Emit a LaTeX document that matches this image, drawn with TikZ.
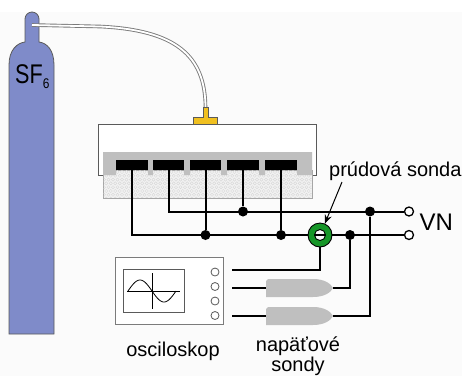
\documentclass[tikz,border=0pt]{standalone}
\usepackage{fontspec}
\usepackage{graphicx}
\setmainfont{Liberation Sans}
\usetikzlibrary{arrows.meta}

\definecolor{bg}{RGB}{251,251,251}
\definecolor{gas}{RGB}{127,139,201}
\definecolor{brass}{RGB}{240,192,32}
\definecolor{ceramic}{RGB}{191,191,191}
\definecolor{ringgreen}{RGB}{22,150,40}
\definecolor{edge}{RGB}{90,90,90}

\begin{document}
\begin{tikzpicture}[x=1pt,y=-1pt,
  wire/.style={line width=2pt,black},
  junction/.style={circle,fill=black,inner sep=0pt,minimum size=10pt},
  terminal/.style={circle,draw=black,line width=1.3pt,fill=white,inner sep=0pt,minimum size=9pt},
  electrode/.style={rectangle,fill=black,inner sep=0pt,minimum height=10pt},
  channel/.style={circle,draw=edge,line width=0.8pt,fill=white,inner sep=0pt,minimum size=8pt},
  txt/.style={font=\fontsize{20}{22}\selectfont,inner sep=0pt},
  probe/.style={fill=ceramic}]

\useasboundingbox (0,0) rectangle (462,376);
\fill[white] (0,0) rectangle (462,376);
\fill[bg] (0,12) rectangle (462,376);

% gas cylinder
\filldraw[fill=gas,draw=edge,line width=0.8pt]
  (9,334) -- (9,65) .. controls (9,50) and (17,43) .. (25,42) -- (25,19)
  .. controls (25,15.13) and (28.13,12) .. (32,12)
  .. controls (35.87,12) and (39,15.13) .. (39,19) -- (39,42)
  .. controls (47,43) and (54,50) .. (54,65) -- (54,334) -- cycle;
\node[anchor=base west,inner sep=0pt,font=\fontsize{27}{27}\selectfont] (sf) at (15,83.5)
  {\scalebox{0.8}[1]{SF}\raisebox{-4.5pt}{\fontsize{14}{14}\selectfont\scalebox{0.85}[1]{6}}};

% gas feed tube
\coordinate (valve) at (32,25);
\coordinate (inlet) at (205.5,108);
\draw[line width=3.6pt,edge!80] (valve) -- (100,26.5) .. controls (175,30) and (205.5,55) .. (inlet);
\draw[line width=1.8pt,white] (valve) -- (100,26.5) .. controls (175,30) and (205.5,55) .. (inlet);

% chamber
\filldraw[fill=white,draw=edge,line width=1pt]
  (103,175) -- (98,175) -- (98,124) -- (316,124) -- (316,175) -- (312,175);
\filldraw[fill=gray!10,draw=gray!70,line width=0.8pt] (103,170) rectangle (312,198);
\begin{scope}
  \clip (103.5,170) rectangle (311.5,197.5);
  \foreach \i in {0,...,47}
    \foreach \j in {0,...,7}
      \draw[gray!30,line width=0.45pt] ({104+\i*4.5+mod(\j,2)*2.25},{172+\j*3.8}) circle (1.6);
\end{scope}
\fill[ceramic] (103,152) rectangle (312,160)
  (103,160) rectangle (116,175)
  (148,160) rectangle (153,175)
  (184,160) rectangle (190,175)
  (221,160) rectangle (227,175)
  (259,160) rectangle (265,175)
  (297,160) rectangle (312,175);
\node[electrode,minimum width=32pt] (e1) at (132,165) {};
\node[electrode,minimum width=31pt] (e2) at (168.5,165) {};
\node[electrode,minimum width=31pt] (e3) at (205.5,165) {};
\node[electrode,minimum width=32pt] (e4) at (243,165) {};
\node[electrode,minimum width=32pt] (e5) at (281,165) {};

% gas inlet fitting
\filldraw[fill=brass,draw=edge,line width=0.6pt]
  (203,107) -- (208,107) -- (208,117) -- (217,117) -- (217,124)
  -- (193,124) -- (193,117) -- (203,117) -- cycle;

% high-voltage terminals
\node[terminal] (tu) at (409,211.5) {};
\node[terminal] (tl) at (409,235) {};
\node[anchor=base west,inner sep=0pt,font=\fontsize{24}{24}\selectfont] (vn) at (419.5,230) {VN};

% buses
\draw[wire] (e1.south) |- (tl.west);
\draw[wire] (e2.south) |- (tu.west);
\node[junction] (j3) at (e3.south |- tl) {};
\node[junction] (j4) at (e4.south |- tu) {};
\node[junction] (j5) at (e5.south |- tl) {};
\draw[wire] (e3.south) -- (j3);
\draw[wire] (e4.south) -- (j4);
\draw[wire] (e5.south) -- (j5);
\node[junction] (jl) at (350,235) {};
\node[junction] (ju) at (370,211.5) {};

% current probe
\node[circle,minimum size=24pt,inner sep=0pt] (ring) at (320,235) {};
\filldraw[fill=ringgreen,draw=black,line width=0.9pt,even odd rule]
  (ring.center) circle (12) (ring.center) circle (5.5);

% oscilloscope
\node[draw=edge!80,fill=white,line width=1pt,minimum width=108pt,minimum height=67pt,inner sep=0pt] (scope) at (169,290.5) {};
\node[draw=edge,line width=0.9pt,minimum width=61pt,minimum height=43pt,inner sep=0pt] (screen) at (153.5,290.5) {};
\draw[line width=0.8pt] (127,291) -- (180,291) (152,273) -- (152,309);
\draw[line width=0.8pt] plot[domain=0:48,samples=60,smooth] ({128+\x},{291-11*sin(7.5*\x)});
\node[channel] (c1) at (215,272) {};
\node[channel] (c2) at (215,286.5) {};
\node[channel] (c3) at (215,301) {};
\node[channel] (c4) at (215,315.5) {};

% signal leads
\coordinate (s1) at (232,270);
\coordinate (s2) at (232,288);
\coordinate (s3) at (232,316);
\coordinate (p1back) at (266,288);
\coordinate (p1tip) at (333,288);
\coordinate (p2back) at (266,316);
\coordinate (p2tip) at (333,316);
\draw[wire] (ring.south) |- (s1);
\draw[wire] (s2) -- (p1back);
\draw[wire] (s3) -- (p2back);
\draw[wire] (p1tip) -| (jl);
\draw[wire] (p2tip) -| (ju);

% voltage probes
\fill[probe] (266,281) -- (268,279) -- (313,279) .. controls (325,279) and (331,284) .. (p1tip)
  .. controls (331,292) and (325,297) .. (313,297) -- (266,297) -- cycle;
\fill[probe] (266,309) -- (268,307) -- (313,307) .. controls (325,307) and (331,312) .. (p2tip)
  .. controls (331,320) and (325,325) .. (313,325) -- (266,325) -- cycle;

% labels
\node[txt,anchor=base west] (cplabel) at (329,176.5) {prúdová sonda};
\coordinate (arrowfrom) at (342,182);
\draw[line width=1pt,-{Stealth[length=9pt,width=7pt]}] (arrowfrom) -- (ring.67);
\node[txt,anchor=base] (osc) at (173,356) {osciloskop};
\node[txt,anchor=base,align=center,font=\fontsize{20}{16.5}\selectfont] (vp) at (298,371.5) {napäťové\\sondy};
\end{tikzpicture}
\end{document}
